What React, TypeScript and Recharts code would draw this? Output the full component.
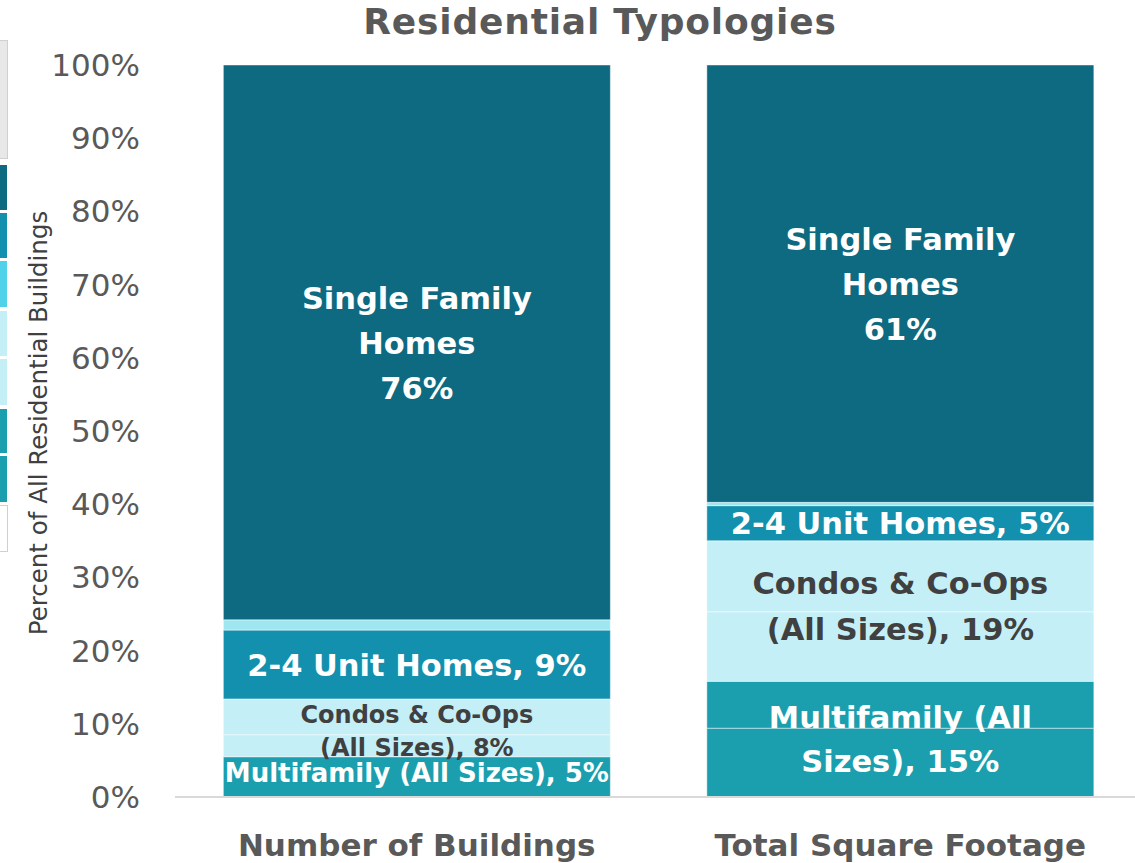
import React from 'react'
import { BarChart, Bar, XAxis, YAxis, LabelList } from 'recharts'

const categories = ['Number of Buildings', 'Total Square Footage']
const multifamilyA = [5.5, 9.4]
const multifamilyB = [0, 6.4]
const condosA = [3.0, 9.5]
const condosB = [4.9, 9.7]
const twoToFour = [9.4, 4.8]
const mixedStrip = [1.4, 0.45]
const singleFamily = [75.8, 59.75]
const yTicks = [0, 10, 20, 30, 40, 50, 60, 70, 80, 90, 100]

const singleFamilyLabels = [['Single Family', 'Homes', '76%'], ['Single Family', 'Homes', '61%']]
const twoToFourLabels = [['2-4 Unit Homes, 9%'], ['2-4 Unit Homes, 5%']]
const condoLabels = [['Condos & Co-Ops', '(All Sizes), 8%'], ['Condos & Co-Ops', '(All Sizes), 19%']]
const multifamilyLabels = [['Multifamily (All Sizes), 5%'], ['Multifamily (All', 'Sizes), 15%']]

const FONT = '"DejaVu Sans", "Century Gothic", sans-serif'
const BAR_STROKE = 'rgba(255,255,255,0.45)'

type LabelStyle = { size: number; color: string; lineHeight: number; dy: number }

// group label drawn on the bottom series of a group, centred on the whole group
const groupLabel = (
    bottom: number[],
    group: number[][],
    lines: string[][],
    styles: LabelStyle[]
) => (props: any) => {
    const vb = props.viewBox && props.viewBox.height !== undefined ? props.viewBox : props
    const { x, y, width, height } = vb
    const index = props.index
    if (index === undefined || !bottom[index]) return null
    const ppu = height / bottom[index]
    const total = group.reduce((s, arr) => s + arr[index], 0)
    const cy = y + height - (total * ppu) / 2 + styles[index].dy
    const st = styles[index]
    const text = lines[index]
    const start = cy - ((text.length - 1) * st.lineHeight) / 2
    return (
        <g>
            {text.map((t, i) => (
                <text
                    key={i}
                    x={x + width / 2}
                    y={start + i * st.lineHeight}
                    textAnchor="middle"
                    dominantBaseline="central"
                    fontFamily={FONT}
                    fontWeight="bold"
                    fontSize={st.size}
                    fill={st.color}
                >
                    {t}
                </text>
            ))}
        </g>
    )
}

const XTick = (props: any) => {
    const { x, y, payload } = props
    return (
        <text x={x} y={y + 57} textAnchor="middle" fontFamily={FONT} fontWeight="bold" fontSize={31} fill="#595959">
            {payload.value}
        </text>
    )
}

const legendStrip: Array<[number, number, string]> = [
    [40, 157, '#e8e8e8'],
    [165, 210, '#0e6a80'],
    [213, 258, '#1390ad'],
    [261, 307, '#4fd1ea'],
    [311, 356, '#c5eff7'],
    [359, 405, '#c5eff7'],
    [409, 453, '#1b9fae'],
    [456, 502, '#1b9fae'],
    [505, 550, '#ffffff']
]

export default function App() {
    const data = categories.map((name, i) => ({
        name,
        mfA: multifamilyA[i],
        mfB: multifamilyB[i],
        coA: condosA[i],
        coB: condosB[i],
        unit: twoToFour[i],
        strip: mixedStrip[i],
        sf: singleFamily[i]
    }))

    const white = (size: number, lineHeight: number, dy: number): LabelStyle => ({ size, color: '#ffffff', lineHeight, dy })

    return (
        <div style={{ position: 'absolute', left: 0, top: 0, width: 1135, height: 863, overflow: 'hidden', background: '#fff' }}>
            {legendStrip.map(([t, b, c], i) => (
                <div
                    key={i}
                    style={{
                        position: 'absolute',
                        left: 0,
                        top: t,
                        width: 7,
                        height: b - t,
                        background: c,
                        borderRight: i === 0 || i === legendStrip.length - 1 ? '1px solid #d0d0d0' : 'none',
                        borderTop: i === 0 || i === legendStrip.length - 1 ? '1px solid #d0d0d0' : 'none',
                        borderBottom: i === 0 || i === legendStrip.length - 1 ? '1px solid #d0d0d0' : 'none'
                    }}
                />
            ))}
            <div style={{ position: 'absolute', left: 0, top: 0 }}>
                <BarChart width={1162} height={880} data={data} margin={{ top: 65, right: 20, left: 0, bottom: 0 }} barCategoryGap="10%">
                    <XAxis
                        dataKey="name"
                        height={83}
                        axisLine={{ stroke: '#d9d9d9', strokeWidth: 2 }}
                        tickLine={false}
                        tickSize={0}
                        tick={<XTick />}
                    />
                    <YAxis
                        width={175}
                        domain={[0, 100]}
                        ticks={yTicks}
                        interval={0}
                        axisLine={false}
                        tickLine={false}
                        tickSize={0}
                        tickMargin={35}
                        tickFormatter={v => `${v}%`}
                        tick={{ fill: '#595959', fontSize: 31, fontFamily: FONT }}
                    />
                    <Bar dataKey="mfA" stackId="a" fill="#1b9fae" stroke={BAR_STROKE} strokeWidth={1} isAnimationActive={false}>
                        <LabelList
                            dataKey="mfA"
                            content={groupLabel(multifamilyA, [multifamilyA, multifamilyB], multifamilyLabels, [white(26, 30, -3.5), white(30.5, 44, 0)])}
                        />
                    </Bar>
                    <Bar dataKey="mfB" stackId="a" fill="#1b9fae" stroke={BAR_STROKE} strokeWidth={1} isAnimationActive={false} />
                    <Bar dataKey="coA" stackId="a" fill="#c5eff7" stroke={BAR_STROKE} strokeWidth={1} isAnimationActive={false}>
                        <LabelList
                            dataKey="coA"
                            content={groupLabel(condosA, [condosA, condosB], condoLabels, [
                                { size: 24, color: '#404040', lineHeight: 33, dy: 3.5 },
                                { size: 30.5, color: '#404040', lineHeight: 46, dy: -5 }
                            ])}
                        />
                    </Bar>
                    <Bar dataKey="coB" stackId="a" fill="#c5eff7" stroke={BAR_STROKE} strokeWidth={1} isAnimationActive={false} />
                    <Bar dataKey="unit" stackId="a" fill="#1390ad" stroke={BAR_STROKE} strokeWidth={1} isAnimationActive={false}>
                        <LabelList
                            dataKey="unit"
                            content={groupLabel(twoToFour, [twoToFour], twoToFourLabels, [white(30.5, 44, 0.5), white(30.5, 44, 0.5)])}
                        />
                    </Bar>
                    <Bar dataKey="strip" stackId="a" fill="#9ee7f0" stroke={BAR_STROKE} strokeWidth={1} isAnimationActive={false} />
                    <Bar dataKey="sf" stackId="a" fill="#0e6a80" stroke={BAR_STROKE} strokeWidth={1} isAnimationActive={false}>
                        <LabelList
                            dataKey="sf"
                            content={groupLabel(singleFamily, [singleFamily], singleFamilyLabels, [white(30.5, 45, 1), white(30.5, 45, 0.5)])}
                        />
                    </Bar>
                </BarChart>
            </div>
            <svg width={1135} height={863} style={{ position: 'absolute', left: 0, top: 0, pointerEvents: 'none' }}>
                <text x={600} y={34} textAnchor="middle" fontFamily={FONT} fontWeight="bold" fontSize={36} letterSpacing={0.8} fill="#595959">
                    Residential Typologies
                </text>
                <text
                    x={38}
                    y={423}
                    transform="rotate(-90 38 423)"
                    textAnchor="middle"
                    dominantBaseline="central"
                    fontFamily={FONT}
                    fontSize={24.5}
                    fill="#404040"
                >
                    Percent of All Residential Buildings
                </text>
            </svg>
        </div>
    )
}
